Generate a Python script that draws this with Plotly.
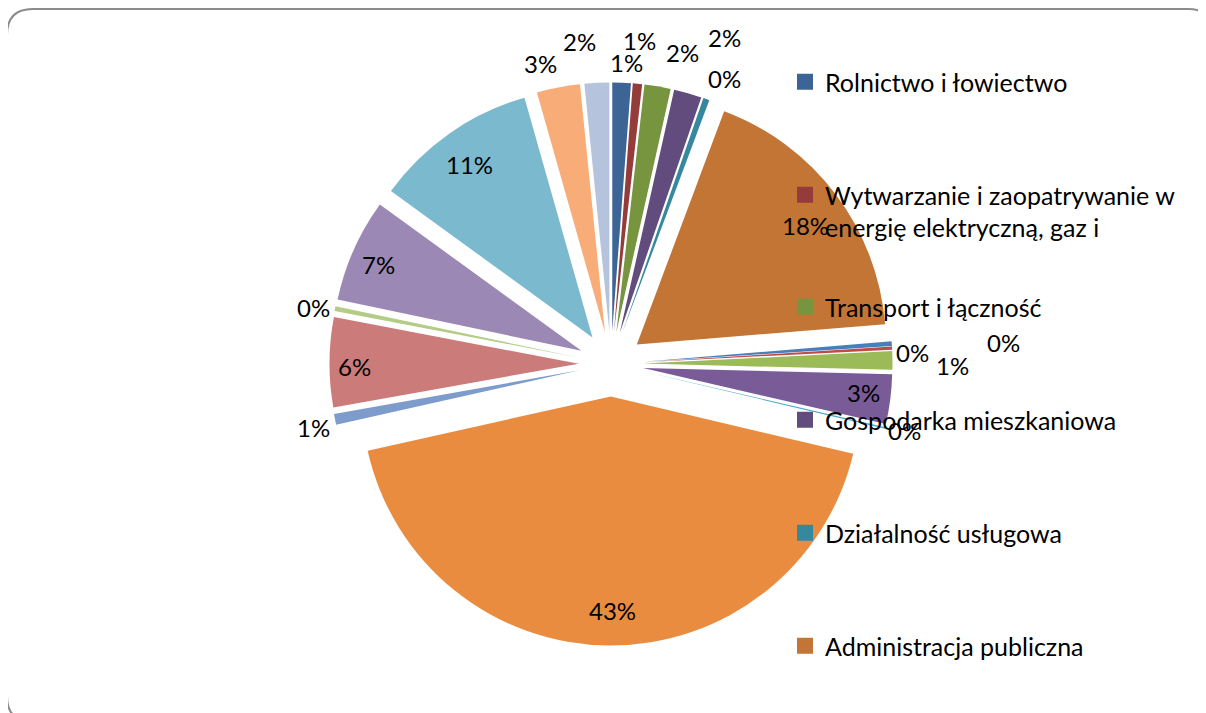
import math
import plotly.graph_objects as go

# ---- data ----
categories = [
    "Rolnictwo i łowiectwo",
    "Wytwarzanie i zaopatrywanie w energię elektryczną, gaz i wodę",
    "Transport i łączność",
    "Gospodarka mieszkaniowa",
    "Działalność usługowa",
    "Administracja publiczna",
    "Bezpieczeństwo publiczne",
    "Obsługa długu publicznego",
    "Różne rozliczenia",
    "Oświata i wychowanie",
    "Szkolnictwo wyższe",
    "Ochrona zdrowia",
    "Pomoc społeczna",
    "Pozostałe zadania polityki społecznej",
    "Edukacyjna opieka wychowawcza",
    "Gospodarka komunalna",
    "Kultura i ochrona dziedzictwa narodowego",
    "Ogrody botaniczne",
    "Kultura fizyczna i sport",
]
values = [1.2, 0.6, 1.7, 1.8, 0.4, 18.0, 0.3, 0.2, 1.2, 3.2, 0.1,
          42.8, 0.7, 5.8, 0.3, 6.7, 10.6, 2.8, 1.6]
legend_names = [
    "Rolnictwo i łowiectwo",
    "Wytwarzanie i zaopatrywanie w<br>energię elektryczną, gaz i",
    "Transport i łączność",
    "Gospodarka mieszkaniowa",
    "Działalność usługowa",
    "Administracja publiczna",
]

# ---- styles ----
colors = ["#3C6497", "#953B39", "#77943F", "#624C7D", "#35889E", "#C27534",
          "#4A7EBB", "#BE4B48", "#9BBB59", "#795B98", "#4BACC6", "#E98C40",
          "#7D9CCB", "#CB7B7A", "#B4CC85", "#9C88B4", "#7BB9CE", "#F8AC78",
          "#B6C3DD"]
# True = label inside the slice, False = outside
label_inside = [False, False, False, False, False, True, False, False, False,
                True, False, True, False, True, False, True, True, False, False]
# small per-label nudges (pixels) to mimic the original label placement
label_dx = [4, 0, 21, 31, 11, -4, -2, 89, 38, 5, -2, 3, 0, -7, 0, -5, 1, -14, -16]
label_dy = [2, -21, -12, -34, 0, 12, 10, -4, 5, -3, -3, -3, 4, 4, 3, 2, 5, -2, -19]

W, H = 1206, 713
OFF = 8  # page body margin of the html page
FONT = "Lato"
FONT_SIZE = 24
LEGEND_FONT_SIZE = 25
PULL = 0.13

def px(x):
    return (x - OFF) / W

def py(y):
    return 1 - (y - OFF) / H

cx, cy, R = 611, 364, 281.5
r_pie = 2 * R / (2 + 2 * PULL)

fig = go.Figure()
fig.add_trace(go.Pie(
    labels=categories,
    values=values,
    sort=False,
    direction="clockwise",
    rotation=0,
    pull=PULL,
    showlegend=False,
    marker=dict(colors=colors, line=dict(width=0)),
    textinfo="none",
    domain=dict(x=[px(cx - R), px(cx + R)], y=[py(cy + R), py(cy - R)]),
    hoverinfo="label+percent",
))

# percentage labels derived from the values
total = sum(values)
annotations = []
cum = 0.0
for i, v in enumerate(values):
    mid = (cum + v / 2) / total * 2 * math.pi
    cum += v
    dist = r_pie * (1.0 if label_inside[i] else 1.22)
    lx = cx + dist * math.sin(mid) + label_dx[i]
    ly = cy - dist * math.cos(mid) + label_dy[i]
    annotations.append(dict(
        x=px(lx), y=py(ly), xref="paper", yref="paper",
        text=f"{round(v / total * 100)}%", showarrow=False,
        xanchor="center", yanchor="middle",
        font=dict(family=FONT, size=FONT_SIZE, color="black"),
    ))

legend_y = [82, 211, 307, 420, 533, 646]
layout_legends = {}
for i, name in enumerate(legend_names):
    key = "legend" if i == 0 else f"legend{i+1}"
    fig.add_trace(go.Scatter(
        x=[None], y=[None], mode="markers",
        marker=dict(symbol="square", size=16, color=colors[i]),
        name=name, legend=key, showlegend=True, hoverinfo="skip",
    ))
    layout_legends[key] = dict(
        x=px(785), xanchor="left", y=py(legend_y[i]), yanchor="middle",
        font=dict(family=FONT, size=LEGEND_FONT_SIZE, color="black"),
        bgcolor="rgba(0,0,0,0)", valign="top",
    )

x0, y0, x1, y1, r = 7, 9, 1214, 722, 26
path = (f"M {px(x0+r)},{py(y0)} L {px(x1-r)},{py(y0)} "
        f"Q {px(x1)},{py(y0)} {px(x1)},{py(y0+r)} "
        f"L {px(x1)},{py(y1-r)} Q {px(x1)},{py(y1)} {px(x1-r)},{py(y1)} "
        f"L {px(x0+r)},{py(y1)} Q {px(x0)},{py(y1)} {px(x0)},{py(y1-r)} "
        f"L {px(x0)},{py(y0+r)} Q {px(x0)},{py(y0)} {px(x0+r)},{py(y0)} Z")

fig.update_layout(
    width=W, height=H,
    margin=dict(l=0, r=0, t=0, b=0, autoexpand=False),
    paper_bgcolor="white", plot_bgcolor="white",
    xaxis=dict(visible=False), yaxis=dict(visible=False),
    shapes=[dict(type="path", path=path, xref="paper", yref="paper",
                 line=dict(color="#8C8C8C", width=2), layer="below")],
    annotations=annotations,
    **layout_legends,
)

fig.write_html("out.html")
